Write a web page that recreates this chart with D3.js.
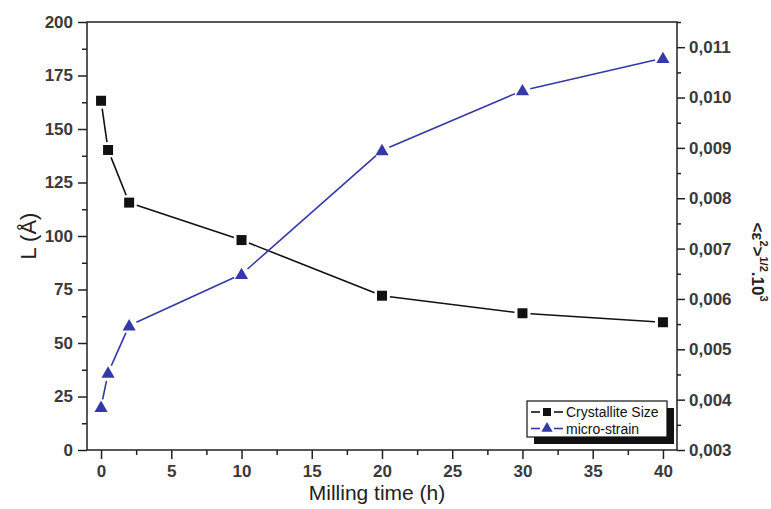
<!DOCTYPE html>
<html><head><meta charset="utf-8">
<script src="https://cdn.jsdelivr.net/npm/d3@7"></script>
<style>
body{margin:0;background:#fff;}
text{font-family:"Liberation Sans",Arial,sans-serif;}
</style></head>
<body><svg id="c" width="771" height="509"></svg>
<script>
const millingTime = [0, 0.5, 2, 10, 20, 30, 40];
const crystalliteSize = [163.2, 140.2, 115.6, 98.1, 72.1, 63.9, 59.7];
const microStrain = [0.00385, 0.00453, 0.00547, 0.00649, 0.00895, 0.01014, 0.01078];
const xTicks = [0, 5, 10, 15, 20, 25, 30, 35, 40];
const leftTicks = [0, 25, 50, 75, 100, 125, 150, 175, 200];
const rightTicks = [0.003, 0.004, 0.005, 0.006, 0.007, 0.008, 0.009, 0.010, 0.011];
const seriesNames = ["Crystallite Size", "micro-strain"];

const svg = d3.select("#c");
const L = 87, R = 677, T = 22, B = 450;
const x = d3.scaleLinear().domain([-1, 41]).range([L, R]);
const yL = d3.scaleLinear().domain([0, 200]).range([B, T]);
const yR = d3.scaleLinear().domain([0.003, 0.0115]).range([B, T]);
const black = "#111", blue = "#3438a8", tickCol = "#3a3a3a";

// frame
svg.append("rect").attr("x", L).attr("y", T).attr("width", R - L).attr("height", B - T)
  .attr("fill", "none").attr("stroke", "#222").attr("stroke-width", 1.5);

function styleAxis(g, fs) {
  g.select(".domain").remove();
  g.selectAll("line").attr("stroke", "#222").attr("stroke-width", 1.5);
  g.selectAll("text").attr("fill", tickCol).style("font-size", fs + "px").style("font-weight", "bold");
}
// bottom
const gb = svg.append("g").attr("transform", `translate(0,${B})`)
  .call(d3.axisBottom(x).tickValues(xTicks).tickSize(9).tickPadding(6).tickFormat(d3.format("d")));
styleAxis(gb, 17);
const gbm = svg.append("g").attr("transform", `translate(0,${B})`)
  .call(d3.axisBottom(x).tickValues(xTicks.slice(0, -1).map(d => d + 2.5)).tickSize(5).tickFormat(""));
styleAxis(gbm, 17);
// left
const gl = svg.append("g").attr("transform", `translate(${L},0)`)
  .call(d3.axisLeft(yL).tickValues(leftTicks).tickSize(9).tickPadding(5).tickFormat(d3.format("d")));
styleAxis(gl, 17);
const glm = svg.append("g").attr("transform", `translate(${L},0)`)
  .call(d3.axisLeft(yL).tickValues(leftTicks.slice(0, -1).map(d => d + 12.5)).tickSize(5).tickFormat(""));
styleAxis(glm, 17);
// right
const gr = svg.append("g").attr("transform", `translate(${R},0)`)
  .call(d3.axisRight(yR).tickValues(rightTicks).tickSize(8).tickPadding(4)
    .tickFormat(d => d3.format(".3f")(d).replace(".", ",")));
styleAxis(gr, 17);
const grm = svg.append("g").attr("transform", `translate(${R},0)`)
  .call(d3.axisRight(yR).tickValues(rightTicks.map(d => d + 0.0005)).tickSize(4).tickFormat(""));
styleAxis(grm, 17);

// series with gaps near markers
function drawSeries(vals, yScale, color, gap) {
  const pts = millingTime.map((t, i) => [x(t), yScale(vals[i])]);
  const g = svg.append("g");
  for (let i = 0; i < pts.length - 1; i++) {
    const [x1, y1] = pts[i], [x2, y2] = pts[i + 1];
    const len = Math.hypot(x2 - x1, y2 - y1);
    if (len <= 2 * gap) continue;
    const ux = (x2 - x1) / len, uy = (y2 - y1) / len;
    g.append("line").attr("x1", x1 + ux * gap).attr("y1", y1 + uy * gap)
      .attr("x2", x2 - ux * gap).attr("y2", y2 - uy * gap)
      .attr("stroke", color).attr("stroke-width", 1.6);
  }
  return pts;
}
const sq = d3.symbol().type(d3.symbolSquare).size(100);
const tri = d3.symbol().type(d3.symbolTriangle).size(75);
const pB = drawSeries(crystalliteSize, yL, black, 8);
const pR = drawSeries(microStrain, yR, blue, 8);
svg.append("g").selectAll("path").data(pB).join("path").attr("d", sq)
  .attr("transform", d => `translate(${d[0]},${d[1]})`).attr("fill", black);
svg.append("g").selectAll("path").data(pR).join("path").attr("d", tri)
  .attr("transform", d => `translate(${d[0]},${d[1] + 1})`).attr("fill", blue);

// legend
const lg = svg.append("g");
lg.append("rect").attr("x", 534).attr("y", 408).attr("width", 140).attr("height", 36).attr("fill", "#111");
lg.append("rect").attr("x", 527).attr("y", 401).attr("width", 140).attr("height", 36)
  .attr("fill", "#fff").attr("stroke", "#111").attr("stroke-width", 1.2);
[[black, 0], [blue, 1]].forEach(([c, i]) => {
  const yy = 412 + i * 16.5;
  lg.append("line").attr("x1", 531).attr("x2", 540).attr("y1", yy).attr("y2", yy).attr("stroke", c).attr("stroke-width", 1.6);
  lg.append("line").attr("x1", 554).attr("x2", 563).attr("y1", yy).attr("y2", yy).attr("stroke", c).attr("stroke-width", 1.6);
  lg.append("path").attr("d", i === 0 ? d3.symbol().type(d3.symbolSquare).size(64)() : d3.symbol().type(d3.symbolTriangle).size(55)())
    .attr("transform", `translate(547,${yy})`).attr("fill", c);
  lg.append("text").attr("x", 566).attr("y", yy + 5).text(seriesNames[i])
    .style("font-size", "14px").attr("fill", "#111");
});

// axis titles
svg.append("text").attr("x", (L + R) / 2 - 5).attr("y", 500).attr("text-anchor", "middle")
  .style("font-size", "21px").attr("fill", "#222").text("Milling time (h)");
svg.append("text").attr("transform", "translate(36,236) rotate(-90)").attr("text-anchor", "middle")
  .style("font-size", "22px").attr("fill", "#222").text("L (Å)");
const rt = svg.append("text").attr("transform", "translate(752,262) rotate(90)").attr("text-anchor", "middle")
  .style("font-size", "17px").style("font-weight", "bold").attr("fill", "#222");
rt.append("tspan").text("<ε");
rt.append("tspan").attr("dy", -8).style("font-size", "11px").text("2");
rt.append("tspan").attr("dy", 8).text(">");
rt.append("tspan").attr("dy", -8).style("font-size", "11px").text("1/2");
rt.append("tspan").attr("dy", 8).text(".10");
rt.append("tspan").attr("dy", -8).style("font-size", "11px").text("3");
</script></body></html>
